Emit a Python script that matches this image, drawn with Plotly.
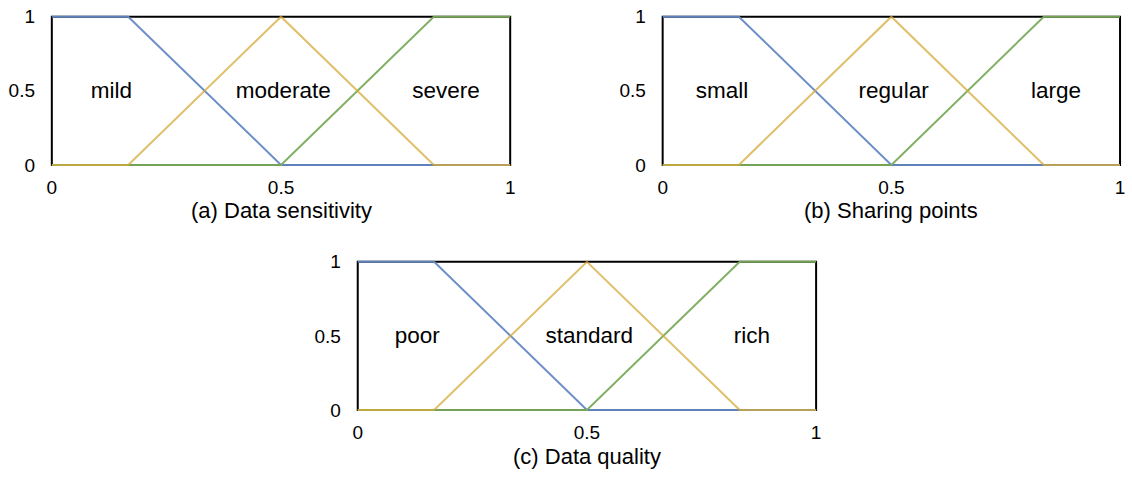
import plotly.graph_objects as go

# Membership breakpoints shared by every panel (x on [0, 1])
x_low = [0, 1/6, 0.5, 1]
y_low = [1, 1, 0, 0]
x_mid = [0, 1/6, 0.5, 5/6, 1]
y_mid = [0, 0, 1, 0, 0]
x_high = [0, 0.5, 5/6, 1]
y_high = [0, 0, 1, 1]

# Panel captions and the term names written inside each panel
captions = ["(a) Data sensitivity", "(b) Sharing points", "(c) Data quality"]
terms = [
    ["mild", "moderate", "severe"],
    ["small", "regular", "large"],
    ["poor", "standard", "rich"],
]
term_x = [0.13, 0.505, 0.86]
term_y = [0.49, 0.49, 0.49]

tick_vals = [0, 0.5, 1]
tick_text = ["0", "0.5", "1"]

BLUE = "rgba(100,137,197,0.95)"
GREEN = "rgba(122,172,92,0.95)"
ORANGE = "rgba(214,170,55,0.75)"

W, H = 1132, 481
# Unit-square boxes in pixels: (left, right, top, bottom) and caption centre y
boxes = [(50, 510, 10, 163), (663, 1122, 10, 163), (357, 817, 263, 416)]
caption_y = [210, 210, 464]
PAD = 3  # px of breathing room so edge lines are not clipped

FONT = "Liberation Sans, Arial, Helvetica, sans-serif"

fig = go.Figure()
layout = dict(
    width=W, height=H,
    margin=dict(l=0, r=0, t=0, b=0, pad=0),
    paper_bgcolor="white", plot_bgcolor="white",
    showlegend=False,
    font=dict(family=FONT, color="black"),
    annotations=[], shapes=[],
)

for i, (l, r, t, b) in enumerate(boxes):
    n = "" if i == 0 else str(i + 1)
    xa, ya = "x" + n, "y" + n
    px = PAD / (r - l)
    py = PAD / (b - t)

    # black frame of the unit square, kept beneath the membership curves
    layout["shapes"].append(dict(
        type="rect", xref=xa, yref=ya, x0=0, x1=1, y0=0, y1=1,
        line=dict(color="black", width=2), fillcolor="rgba(0,0,0,0)",
        layer="below",
    ))

    for xs, ys, col in [(x_low, y_low, BLUE), (x_high, y_high, GREEN), (x_mid, y_mid, ORANGE)]:
        fig.add_trace(go.Scatter(
            x=xs, y=ys, mode="lines", xaxis=xa, yaxis=ya,
            line=dict(color=col, width=2), hoverinfo="skip",
        ))
    fig.add_trace(go.Scatter(
        x=term_x, y=term_y, mode="text", text=terms[i], xaxis=xa, yaxis=ya,
        textfont=dict(size=22.5, color="black", family=FONT), hoverinfo="skip",
    ))
    layout["xaxis" + n] = dict(
        domain=[(l - PAD) / W, (r + PAD) / W], range=[-px, 1 + px], anchor=ya,
        tickvals=tick_vals, ticktext=tick_text,
        ticks="outside", ticklen=2, tickcolor="rgba(0,0,0,0)",
        showgrid=False, zeroline=False, showline=False,
        tickfont=dict(size=19),
    )
    layout["yaxis" + n] = dict(
        domain=[1 - (b + PAD) / H, 1 - (t - PAD) / H], range=[-py, 1 + py], anchor=xa,
        tickvals=tick_vals, ticktext=tick_text,
        ticks="outside", ticklen=9, tickcolor="rgba(0,0,0,0)",
        showgrid=False, zeroline=False, showline=False,
        tickfont=dict(size=19),
    )
    layout["annotations"].append(dict(
        text=captions[i], xref="paper", yref="paper",
        x=(l + r) / 2 / W, y=1 - caption_y[i] / H,
        xanchor="center", yanchor="middle", showarrow=False,
        font=dict(size=22, color="black", family=FONT),
    ))

fig.update_layout(**layout)
fig.write_html("out.html")
